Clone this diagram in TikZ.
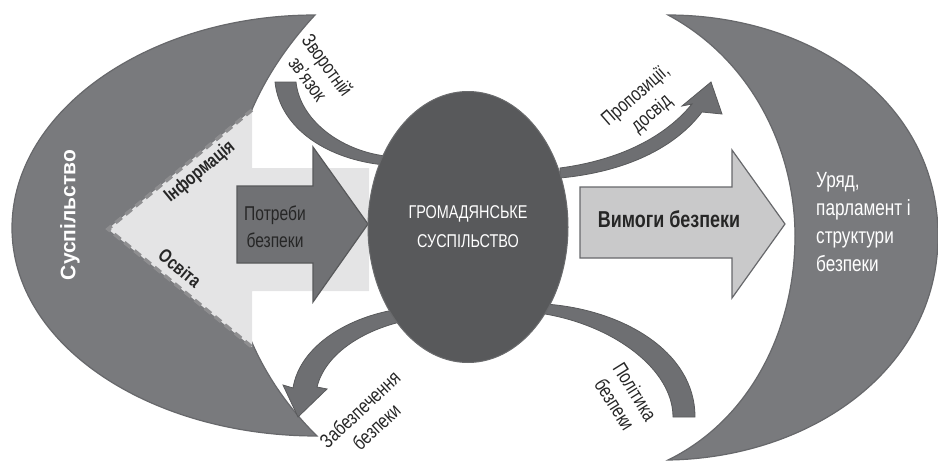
\documentclass[tikz,border=0pt]{standalone}
\usepackage{fontspec}
\setmainfont{Liberation Sans}
\newfontfamily\narrowfont[FakeStretch=0.78]{Liberation Sans}
\usetikzlibrary{shapes.geometric,positioning}

\definecolor{moongray}{HTML}{797A7D}
\definecolor{moonedge}{HTML}{67686B}
\definecolor{hubgray}{HTML}{58595B}
\definecolor{hubedge}{HTML}{6A6B6D}
\definecolor{bandgray}{HTML}{6E6F72}
\definecolor{bandedge}{HTML}{58595B}
\definecolor{lightgray}{HTML}{E4E4E5}
\definecolor{dashgray}{HTML}{8E8E90}
\definecolor{needgray}{HTML}{707174}
\definecolor{demandgray}{HTML}{C9C9CA}
\definecolor{inkgray}{HTML}{262626}

\tikzset{
  moon/.style={fill=moongray, draw=moonedge, line width=1.2pt},
  band/.style={fill=bandgray, draw=bandedge, line width=0.8pt},
  hub/.style={ellipse, fill=hubgray, draw=hubedge, line width=1pt,
    minimum width=200pt, minimum height=271pt, inner sep=0pt,
    text=white, align=center, font=\narrowfont\fontsize{18.5}{29}\selectfont},
  lbl/.style={text=inkgray, align=center, inner sep=1pt,
    font=\narrowfont\fontsize{20}{24}\selectfont},
}

\begin{document}
\begin{tikzpicture}[x=1pt,y=-1pt]
\useasboundingbox (0,0) rectangle (938,461);

% crescents
\draw[moon] (315,15) .. controls (150,15) and (12,110) .. (12,228)
  .. controls (12,345) and (150,436) .. (317,436)
  .. controls (255,375) and (228,300) .. (228,228)
  .. controls (228,150) and (255,80) .. (315,15) -- cycle;
\draw[moon] (668,15) .. controls (810,15) and (938,100) .. (938,236)
  .. controls (938,370) and (810,458) .. (668,460)
  .. controls (750,420) and (795,330) .. (795,236)
  .. controls (795,150) and (752,60) .. (668,15) -- cycle;

% light wedge behind the needs arrow
\fill[lightgray] (108,229) -- (252,110) -- (252,168) -- (369,168)
  -- (369,291) -- (252,291) -- (252,347) -- cycle;
\draw[dashgray, line width=3.5pt, dash pattern=on 8pt off 5pt]
  (252,110) -- (108,229) -- (252,347);

% curved bands
\draw[band] (385,165) .. controls (330,160) and (280,130) .. (275,82)
  -- (296,82) .. controls (300,120) and (340,150) .. (385,156) -- cycle;
\draw[band] (560,178) .. controls (625,172) and (675,148) .. (702,112)
  -- (722,114) -- (711,82) -- (682,106) -- (692,104)
  .. controls (665,137) and (620,160) .. (560,168) -- cycle;
\draw[band] (400,309) .. controls (350,316) and (300,345) .. (293,388)
  -- (283,385) -- (298,417) -- (327,389) -- (317,387)
  .. controls (325,355) and (360,332) .. (400,322) -- cycle;
\draw[band] (545,304) .. controls (620,309) and (695,350) .. (695,417)
  -- (673,417) .. controls (673,370) and (615,326) .. (545,314) -- cycle;

% block arrows
\draw[fill=needgray, draw=hubgray, line width=1.2pt]
  (237,186) -- (313,186) -- (313,147) -- (368,224) -- (313,302)
  -- (313,263) -- (237,263) -- cycle;
\draw[fill=demandgray, draw=moonedge, line width=1.2pt]
  (580,187) -- (732,187) -- (732,150) -- (785,224) -- (732,298)
  -- (732,258) -- (580,258) -- cycle;

\node[hub] (hub) at (468,227) {ГРОМАДЯНСЬКЕ\\СУСПІЛЬСТВО};

% labels
\node[lbl, font=\narrowfont\fontsize{20}{27}\selectfont] (needs) at (275,227) {Потреби\\безпеки};
\node[lbl, font=\narrowfont\bfseries\fontsize{23}{27}\selectfont] (demands) at (669,219) {Вимоги безпеки};
\node[text=white, rotate=90, font=\bfseries\fontsize{21}{24}\selectfont] (society) at (70,215) {Суспільство};
\node[lbl, font=\narrowfont\bfseries\fontsize{19}{22}\selectfont, rotate=39.5] (info) at (200,172) {Інформація};
\node[lbl, font=\narrowfont\bfseries\fontsize{19}{22}\selectfont, rotate=-39.5] (edu) at (180,268) {Освіта};
\node[lbl, text=white, anchor=west, align=left, font=\narrowfont\fontsize{22}{28}\selectfont] (gov) at (815,222) {Уряд,\\парламент і\\структури\\безпеки};
\node[lbl, rotate=-54] (feedback) at (318,72) {Зворотній\\зв’язок};
\node[lbl, rotate=41] (proposals) at (644,105) {Пропозиції,\\досвід};
\node[lbl, rotate=43] (provision) at (368,418) {Забезпечення\\безпеки};
\node[lbl, rotate=-58] (policy) at (625,398) {Політика\\безпеки};
\end{tikzpicture}
\end{document}
